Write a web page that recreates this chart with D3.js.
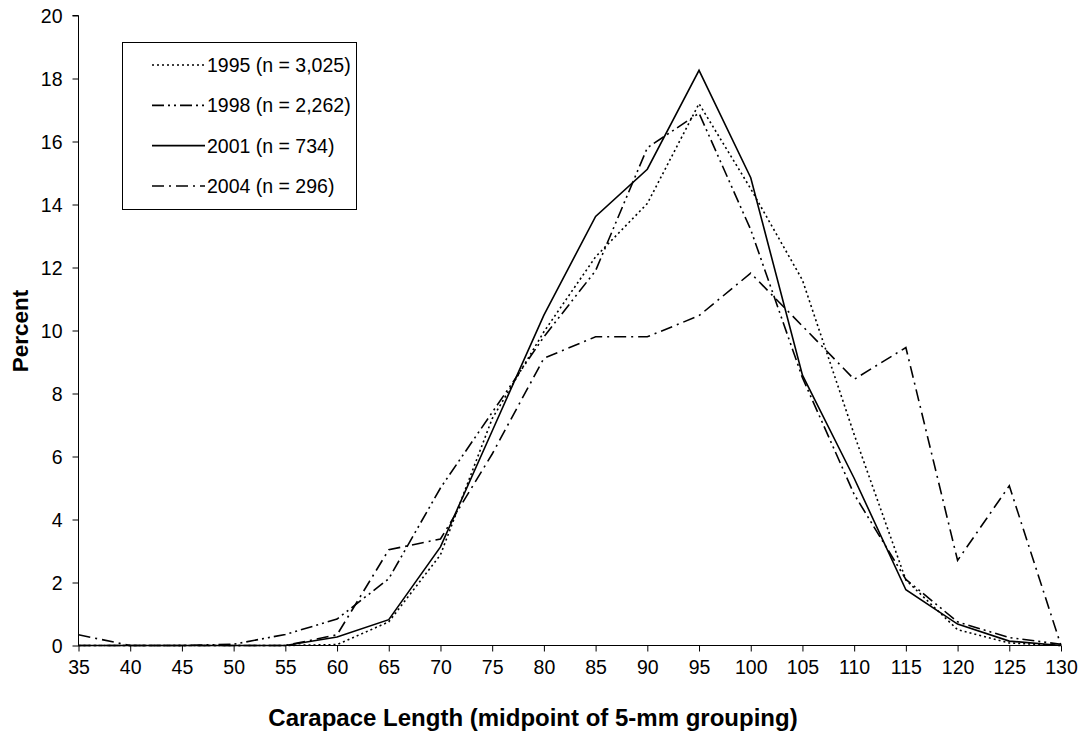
<!DOCTYPE html>
<html>
<head>
<meta charset="utf-8">
<script src="https://cdn.jsdelivr.net/npm/d3@7"></script>
<style>
  html, body { margin: 0; padding: 0; background: #fff; }
  svg { display: block; }
  text { font-family: "Liberation Sans", Arial, sans-serif; fill: #000; }
</style>
</head>
<body>
<svg id="chart" width="1081" height="734"></svg>
<script>
// Carapace length classes (midpoint of 5-mm grouping, mm)
const categories = [35, 40, 45, 50, 55, 60, 65, 70, 75, 80, 85, 90, 95, 100, 105, 110, 115, 120, 125, 130];

// Percent of sample in each class, by survey year
const pct1995 = [0, 0, 0, 0, 0, 0.03, 0.75, 2.88, 7.2, 9.96, 12.34, 14.03, 17.2, 14.5, 11.6, 6.7, 2.08, 0.5, 0.08, 0];
const pct1998 = [0, 0, 0, 0.04, 0.35, 0.84, 2.12, 5.0, 7.4, 9.8, 11.9, 15.8, 16.9, 13.2, 8.5, 4.8, 2.1, 0.75, 0.25, 0.04];
const pct2001 = [0, 0, 0, 0, 0, 0.27, 0.82, 3.13, 6.81, 10.49, 13.62, 15.12, 18.26, 14.85, 8.58, 5.31, 1.77, 0.68, 0.14, 0];
const pct2004 = [0.34, 0, 0, 0, 0, 0.34, 3.04, 3.38, 6.08, 9.12, 9.8, 9.8, 10.47, 11.82, 10.14, 8.45, 9.46, 2.7, 5.07, 0];

const seriesLabels = ["1995 (n = 3,025)", "1998 (n = 2,262)", "2001 (n = 734)", "2004 (n = 296)"];
const yTicks = [0, 2, 4, 6, 8, 10, 12, 14, 16, 18, 20];

const xTitle = "Carapace Length (midpoint of 5-mm grouping)";
const yTitle = "Percent";

// line styles per series
const dashes = ["2,3", "12,4,2,4,2,4", null, "12,5,2,5"];

const series = [pct1995, pct1998, pct2001, pct2004].map((vals, i) => ({
  label: seriesLabels[i],
  dash: dashes[i],
  values: vals.map((v, j) => ({ x: categories[j], y: v }))
}));

const svg = d3.select("#chart");
const plot = { left: 78.5, right: 1061, top: 15.5, bottom: 645.5 };

const x = d3.scalePoint().domain(categories).range([plot.left, plot.right]);
const y = d3.scaleLinear().domain([0, 20]).range([plot.bottom, plot.top]);

// y axis
const yAxis = svg.append("g")
  .attr("transform", `translate(${plot.left},0)`)
  .call(d3.axisLeft(y).tickValues(yTicks).tickSize(6).tickPadding(10).tickFormat(d3.format("d")));
yAxis.select(".domain").attr("stroke", "#000").attr("stroke-width", 1).attr("d", `M-6,${plot.top}H0V${plot.bottom}`);
yAxis.selectAll(".tick line").attr("stroke", "#000");
yAxis.selectAll(".tick text").style("font-size", "19.5px").attr("fill", "#000").attr("dy", "0.36em");

// x axis
const xAxis = svg.append("g")
  .attr("transform", `translate(0,${plot.bottom})`)
  .call(d3.axisBottom(x).tickSize(6).tickPadding(8));
xAxis.select(".domain").attr("stroke", "#000").attr("stroke-width", 1).attr("d", `M${plot.left},0H${plot.right}`);
xAxis.selectAll(".tick line").attr("stroke", "#000");
xAxis.selectAll(".tick text").style("font-size", "19.5px").attr("fill", "#000").attr("dy", "0.72em");

// axis titles
svg.append("text")
  .attr("x", 533).attr("y", 726)
  .attr("text-anchor", "middle")
  .style("font-size", "24px").style("font-weight", "bold")
  .text(xTitle);

svg.append("text")
  .attr("transform", "translate(28,331) rotate(-90)")
  .attr("text-anchor", "middle")
  .style("font-size", "22.5px").style("font-weight", "bold")
  .text(yTitle);

// series lines
const line = d3.line().x(d => x(d.x)).y(d => y(d.y));
svg.append("g").selectAll("path")
  .data(series)
  .join("path")
  .attr("d", d => line(d.values))
  .attr("fill", "none")
  .attr("stroke", "#000")
  .attr("stroke-width", 1.6)
  .attr("stroke-linejoin", "miter")
  .attr("stroke-dasharray", d => d.dash);

// legend
const legend = svg.append("g");
legend.append("rect")
  .attr("x", 122.5).attr("y", 42.5).attr("width", 234).attr("height", 167)
  .attr("fill", "#fff").attr("stroke", "#000").attr("stroke-width", 1);

const rowY = d3.scalePoint().domain(seriesLabels).range([65, 186]);
const rows = legend.selectAll("g.row").data(series).join("g").attr("class", "row")
  .attr("transform", d => `translate(0,${rowY(d.label)})`);
rows.append("line")
  .attr("x1", 152).attr("x2", 205).attr("y1", 0).attr("y2", 0)
  .attr("stroke", "#000").attr("stroke-width", 1.6)
  .attr("stroke-dasharray", d => d.dash);
rows.append("text")
  .attr("x", 207).attr("y", 0).attr("dy", "0.36em")
  .style("font-size", "19.5px")
  .text(d => d.label);
</script>
</body>
</html>
